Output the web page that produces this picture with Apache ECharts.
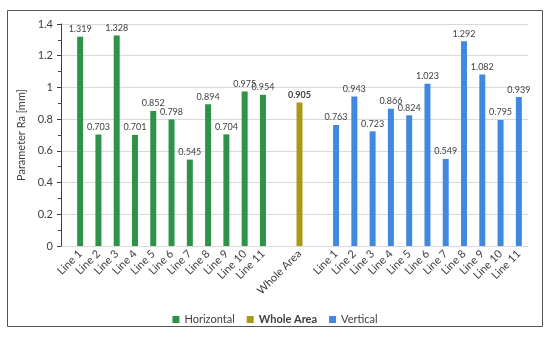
<!DOCTYPE html>
<html><head><meta charset="utf-8">
<script src="https://cdn.jsdelivr.net/npm/echarts@6/dist/echarts.min.js"></script>
<style>html,body{margin:0;padding:0;background:#fff}#c{width:550px;height:340px}</style>
</head><body><div id="c"></div>
<script>
const hLines = ['Line 1','Line 2','Line 3','Line 4','Line 5','Line 6','Line 7','Line 8','Line 9','Line 10','Line 11'];
const vLines = ['Line 1','Line 2','Line 3','Line 4','Line 5','Line 6','Line 7','Line 8','Line 9','Line 10','Line 11'];
const wholeLabel = 'Whole Area';
const horizontal = [1.319,0.703,1.328,0.701,0.852,0.798,0.545,0.894,0.704,0.975,0.954];
const wholeArea = [0.905];
const vertical = [0.763,0.943,0.723,0.866,0.824,1.023,0.549,1.292,1.082,0.795,0.939];
const yTicks = [0,0.2,0.4,0.6,0.8,1,1.2,1.4];

const cats = [...hLines, '', wholeLabel, '', ...vLines];
const n = cats.length;
const empty = k => Array(k).fill('-');
const hData = [...horizontal, ...empty(n - horizontal.length)];
const wData = [...empty(hLines.length + 1), ...wholeArea, ...empty(n - hLines.length - 2)];
const vData = [...empty(hLines.length + 3), ...vertical];

const font = 'Lato, "Open Sans", sans-serif';
const chart = echarts.init(document.getElementById('c'));
const lbl = (bold) => ({show:true, position:'top', distance:3, fontSize:9, color:'#404040', fontFamily:font, fontWeight: bold ? 'bold':'normal', formatter: p => Number(p.value).toFixed(3)});
chart.setOption({
  animation:false,
  graphic:[{type:'rect', shape:{x:7.5,y:10.5,width:535,height:316}, style:{fill:'none', stroke:'#555', lineWidth:1}, silent:true}],
  grid:[
    {left:61, right:22, top:24, bottom:94},
    {left:71, right:22, top:24, bottom:94}
  ],
  xAxis:[
    {gridIndex:0, type:'value', show:false, min:0, max:1},
    {gridIndex:1, type:'category', data:cats, boundaryGap:true,
     axisLine:{show:true, lineStyle:{color:'#d9d9d9'}}, axisTick:{show:false},
     axisLabel:{interval:0, rotate:45, fontSize:11, color:'#404040', fontFamily:font, margin:6}}
  ],
  yAxis:[
    {gridIndex:0, type:'value', min:0, max:1.4, interval:0.2,
     name:'Parameter Ra [mm]', nameLocation:'middle', nameGap:33, nameRotate:90,
     nameTextStyle:{fontSize:11, color:'#404040', fontFamily:font},
     axisLine:{show:true, lineStyle:{color:'#404040'}},
     axisTick:{show:true, length:4, lineStyle:{color:'#404040'}},
     minorTick:{show:true, splitNumber:2, length:3, lineStyle:{color:'#404040'}},
     axisLabel:{fontSize:11, color:'#404040', fontFamily:font, margin:8},
     splitLine:{show:true, lineStyle:{color:'#d9d9d9'}}},
    {gridIndex:1, type:'value', min:0, max:1.4, interval:0.2, show:false, splitLine:{show:false}}
  ],
  legend:{bottom:10, left:'center', itemWidth:7, itemHeight:7, itemGap:12, icon:'rect',
    textStyle:{fontSize:11, color:'#404040', fontFamily:font, rich:{b:{fontWeight:'bold', fontSize:11, color:'#404040', fontFamily:font}}},
    formatter: name => name === wholeLabel ? '{b|' + name + '}' : name,
    data:['Horizontal', wholeLabel, 'Vertical']},
  series:[
    {name:'Horizontal', type:'bar', xAxisIndex:1, yAxisIndex:1, data:hData, barWidth:6, barGap:'-100%', itemStyle:{color:'#2e9249'}, label:lbl(false)},
    {name:wholeLabel, type:'bar', xAxisIndex:1, yAxisIndex:1, data:wData, barWidth:6, barGap:'-100%', itemStyle:{color:'#a89a16'}, label:lbl(true)},
    {name:'Vertical', type:'bar', xAxisIndex:1, yAxisIndex:1, data:vData, barWidth:6, barGap:'-100%', itemStyle:{color:'#4189e0'}, label:lbl(false)}
  ]
});
</script></body></html>
